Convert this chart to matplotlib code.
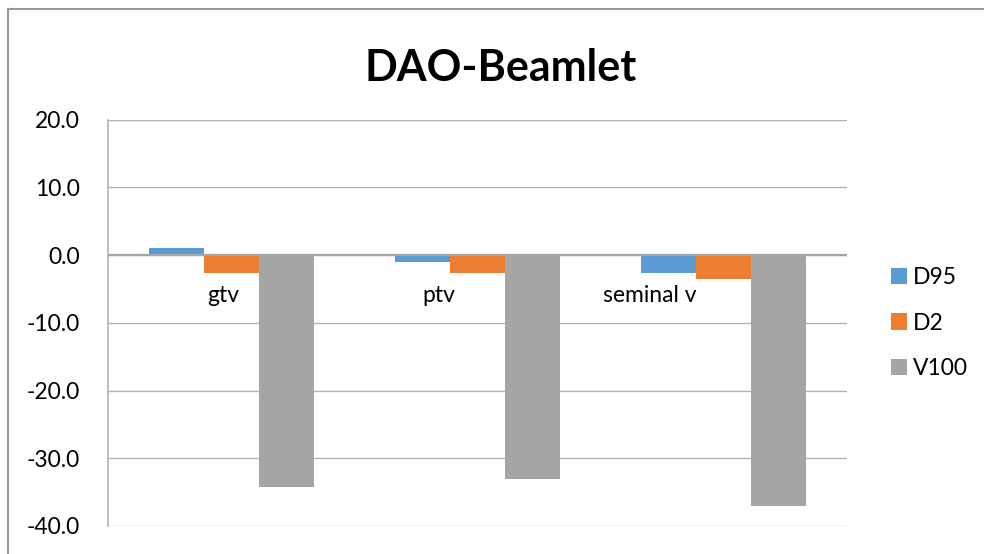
import matplotlib
matplotlib.use("Agg")
import matplotlib.pyplot as plt
import matplotlib.transforms as mtransforms
import numpy as np

plt.rcParams['font.family'] = ['Lato', 'DejaVu Sans']

categories = ["gtv", "ptv", "seminal v"]
series_names = ["D95", "D2", "V100"]
d95 = [1.1, -1.1, -2.7]
d2 = [-2.6, -2.6, -3.5]
v100 = [-34.2, -33.1, -37.1]
yticks = [-40, -30, -20, -10, 0, 10, 20]
title = "DAO-Beamlet"

colors = ["#5B9BD5", "#ED7D31", "#A5A5A5"]
grid_c = "#b3b3b3"
FS = 16.5

fig = plt.figure(figsize=(9.84, 5.54), dpi=100)
W, H = 984, 554
ax = fig.add_axes([108 / W, 1 - 526 / H, (847 - 108) / W, (526 - 119.5) / H])

x = np.arange(len(categories))
bw = 0.223
for k, (vals, name) in enumerate(zip([d95, d2, v100], series_names)):
    ax.bar(x + (k - 1) * bw, vals, width=bw, color=colors[k], label=name, zorder=3)

ax.set_xlim(-0.5, len(categories) - 0.5)
ax.set_ylim(-40, 20)
ax.set_yticks(yticks)
ax.set_yticklabels([f"{v:.1f}" for v in yticks], fontsize=FS)
ax.tick_params(axis='y', length=0, pad=20)
ax.set_xticks([])
for s in ["top", "right", "bottom"]:
    ax.spines[s].set_visible(False)
ax.spines["left"].set_color(grid_c)
ax.spines["left"].set_linewidth(1.2)
ax.yaxis.grid(True, color=grid_c, linewidth=1.0, zorder=0)
ax.set_axisbelow(True)
ax.axhline(0, color="#a6a6a6", linewidth=1.6, zorder=4)

# category labels next to the zero axis
shifts_px = [-8, -39, -74]
for i, (cat, sh) in enumerate(zip(categories, shifts_px)):
    tr = ax.transData + mtransforms.ScaledTranslation(sh / 100, -40 / 100, fig.dpi_scale_trans)
    ax.text(i, 0, cat, transform=tr, ha='center', va='center', fontsize=FS, zorder=5)

fig.text(501 / W, 1 - 68 / H, title, ha='center', va='center', fontsize=31, fontweight='bold')

leg = fig.legend(loc='center left', bbox_to_anchor=(891 / W, 1 - 323 / H), frameon=False,
                 fontsize=FS, handlelength=0.7, handleheight=0.7, handletextpad=0.26,
                 labelspacing=1.05, borderpad=0, borderaxespad=0)

# chart border
fig.add_artist(plt.Line2D([8 / W, 8 / W], [0, 1 - 9 / H], color="#999999", linewidth=1.5,
                          transform=fig.transFigure))
fig.add_artist(plt.Line2D([8 / W, 1], [1 - 9 / H, 1 - 9 / H], color="#999999", linewidth=1.5,
                          transform=fig.transFigure))

fig.savefig("out.png", dpi=100, facecolor="white")
